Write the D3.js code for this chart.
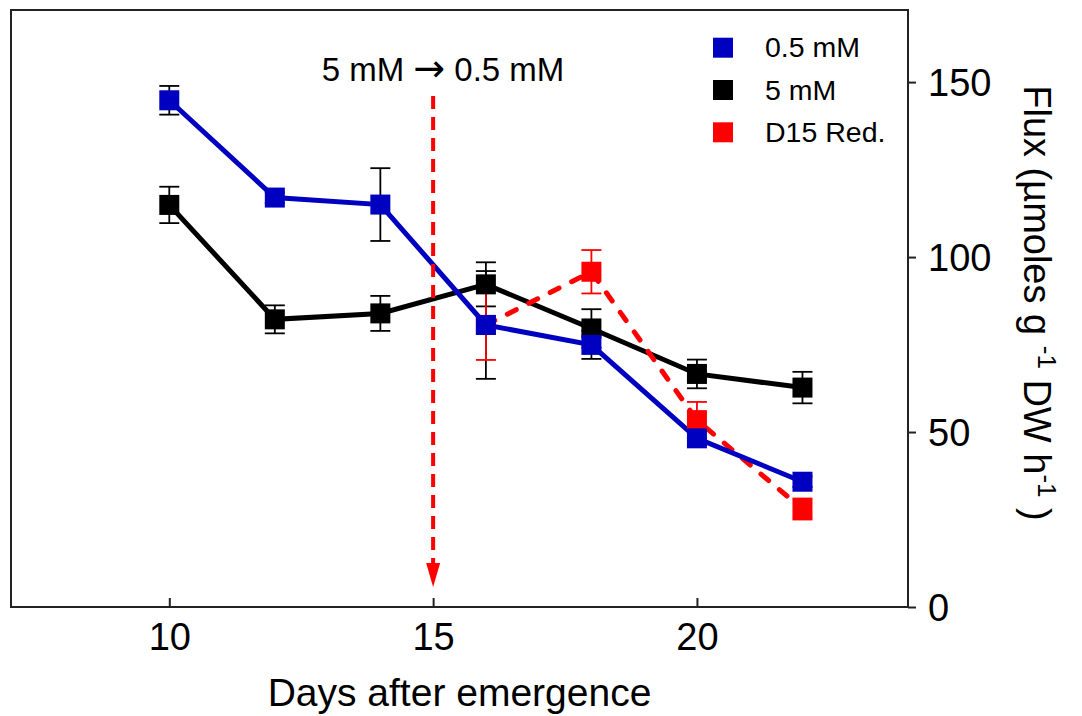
<!DOCTYPE html>
<html><head><meta charset="utf-8">
<script src="https://cdn.jsdelivr.net/npm/d3@7"></script>
<style>body{margin:0;background:#fff} svg{display:block} text{font-family:"Liberation Sans",Arial,sans-serif;fill:#000}</style>
</head><body>
<svg id="c" width="1082" height="716"></svg>
<script>
// ---- data ----
const days = [10,12,14,16,18,20,22];
const lowValues = [144.8,117,115,80.6,74.9,48.2,35.8];      // 0.5 mM
const lowErrors = [4.1,1.5,10.4,15.4,4,2,1.5];
const highValues = [114.9,82.2,83.9,92.2,79.6,66.6,62.7];   // 5 mM
const highErrors = [5.2,4,5,6.3,5.5,4.1,4.5];
const redDays = [16,18,20,22];
const redValues = [80.6,95.8,53.4,28.0];                    // D15 Red.
const redErrors = [10,6.2,5.2,3];
const xTicks = [10,15,20];
const yTicks = [0,50,100,150];
const legendLabels = ["0.5 mM","5 mM","D15 Red."];
const annotationParts = ["5 mM ", "\u2192", " 0.5 mM"];
const switchDay = 15;
const arrowFrom = 146, arrowTo = 5.7;

const svg = d3.select("#c");
const L = 11, R = 908, T = 10, B = 607;
const x = d3.scaleLinear().domain([7,24]).range([L,R]);
const y = d3.scaleLinear().domain([0,170.6]).range([B,T]);

const BLUE = "#0000c0", RED = "#ff0000", BLACK = "#000000";

// frame
svg.append("rect").attr("x",L).attr("y",T).attr("width",R-L).attr("height",B-T)
  .attr("fill","none").attr("stroke","#222").attr("stroke-width",2);

// x axis (ticks inward)
const gx = svg.append("g").attr("transform",`translate(0,${B})`)
  .call(d3.axisBottom(x).tickValues(xTicks).tickSizeInner(-9).tickSizeOuter(0).tickFormat(d3.format("d")));
gx.select(".domain").remove();
gx.selectAll(".tick line").attr("stroke","#222").attr("stroke-width",2);
gx.selectAll(".tick text").attr("y",43).attr("dy",null).attr("font-size",38).attr("font-family","Liberation Sans, Arial, sans-serif");

// y axis on right (ticks outward)
const gy = svg.append("g").attr("transform",`translate(${R},0)`)
  .call(d3.axisRight(y).tickValues(yTicks).tickSizeInner(8).tickSizeOuter(0).tickPadding(12));
gy.select(".domain").remove();
gy.selectAll(".tick line").attr("stroke","#222").attr("stroke-width",2);
gy.selectAll(".tick text").attr("font-size",38).attr("dy","0.36em").attr("font-family","Liberation Sans, Arial, sans-serif");

// axis titles
svg.append("text").attr("x",(L+R)/2).attr("y",706).attr("text-anchor","middle")
  .attr("font-size",39).text("Days after emergence");
const yl = svg.append("text").attr("transform","translate(1024,303) rotate(90)")
  .attr("text-anchor","middle").attr("font-size",38);
yl.append("tspan").text("Flux (\u00b5moles g ");
yl.append("tspan").attr("dy",-14).attr("font-size",26).text("-1");
yl.append("tspan").attr("dy",14).text(" DW h");
yl.append("tspan").attr("dy",-14).attr("font-size",26).text("-1");
yl.append("tspan").attr("dy",14).text(" )");

// series
const mk = (ds, vs, es) => ds.map((d,i)=>({d, v:vs[i], e:es[i]}));
const low = mk(days, lowValues, lowErrors);
const high = mk(days, highValues, highErrors);
const red = mk(redDays, redValues, redErrors);

function errorBars(data, color){
  const g = svg.append("g").attr("stroke",color).attr("stroke-width",1.8);
  data.forEach(p=>{
    const cx = x(p.d), y0 = y(p.v - p.e), y1 = y(p.v + p.e);
    g.append("line").attr("x1",cx).attr("x2",cx).attr("y1",y0).attr("y2",y1);
    g.append("line").attr("x1",cx-10).attr("x2",cx+10).attr("y1",y0).attr("y2",y0);
    g.append("line").attr("x1",cx-10).attr("x2",cx+10).attr("y1",y1).attr("y2",y1);
  });
}
errorBars(high, BLACK);
errorBars(low, BLACK);
errorBars(red, RED);

const line = d3.line().x(p=>x(p.d)).y(p=>y(p.v));
svg.append("path").datum(high).attr("d",line).attr("fill","none").attr("stroke",BLACK).attr("stroke-width",5);
svg.append("path").datum(red).attr("d",line).attr("fill","none").attr("stroke",RED).attr("stroke-width",5)
  .attr("stroke-dasharray","10,14").attr("stroke-linecap","round");
svg.append("path").datum(low).attr("d",line).attr("fill","none").attr("stroke",BLUE).attr("stroke-width",5);

function markers(data, color){
  svg.append("g").selectAll("rect").data(data).join("rect")
    .attr("x",p=>x(p.d)-10).attr("y",p=>y(p.v)-10).attr("width",20).attr("height",20).attr("fill",color);
}
markers(high, BLACK);
markers(red, RED);
markers(low, BLUE);

// switch annotation
const sx = x(switchDay);
svg.append("line").attr("x1",sx).attr("x2",sx).attr("y1",y(arrowFrom)).attr("y2",y(arrowTo)-22)
  .attr("stroke",RED).attr("stroke-width",4).attr("stroke-dasharray","13,8");
svg.append("path").attr("d",`M${sx-7},${y(arrowTo)-24}L${sx+7},${y(arrowTo)-24}L${sx},${y(arrowTo)}Z`).attr("fill",RED);
const ann = svg.append("text").attr("x",443).attr("y",81).attr("text-anchor","middle").attr("font-size",33);
ann.append("tspan").text(annotationParts[0]);
ann.append("tspan").attr("font-family","DejaVu Sans").attr("font-size",38).text(annotationParts[1]);
ann.append("tspan").text(annotationParts[2]);

// legend
const lg = svg.append("g");
[BLUE, BLACK, RED].forEach((c,i)=>{
  const cy = 47.7 + i*42.3;
  lg.append("rect").attr("x",713).attr("y",cy-10).attr("width",20).attr("height",20).attr("fill",c);
  lg.append("text").attr("x",765).attr("y",cy+9.6).attr("font-size",28.5).text(legendLabels[i]);
});
</script>
</body></html>
